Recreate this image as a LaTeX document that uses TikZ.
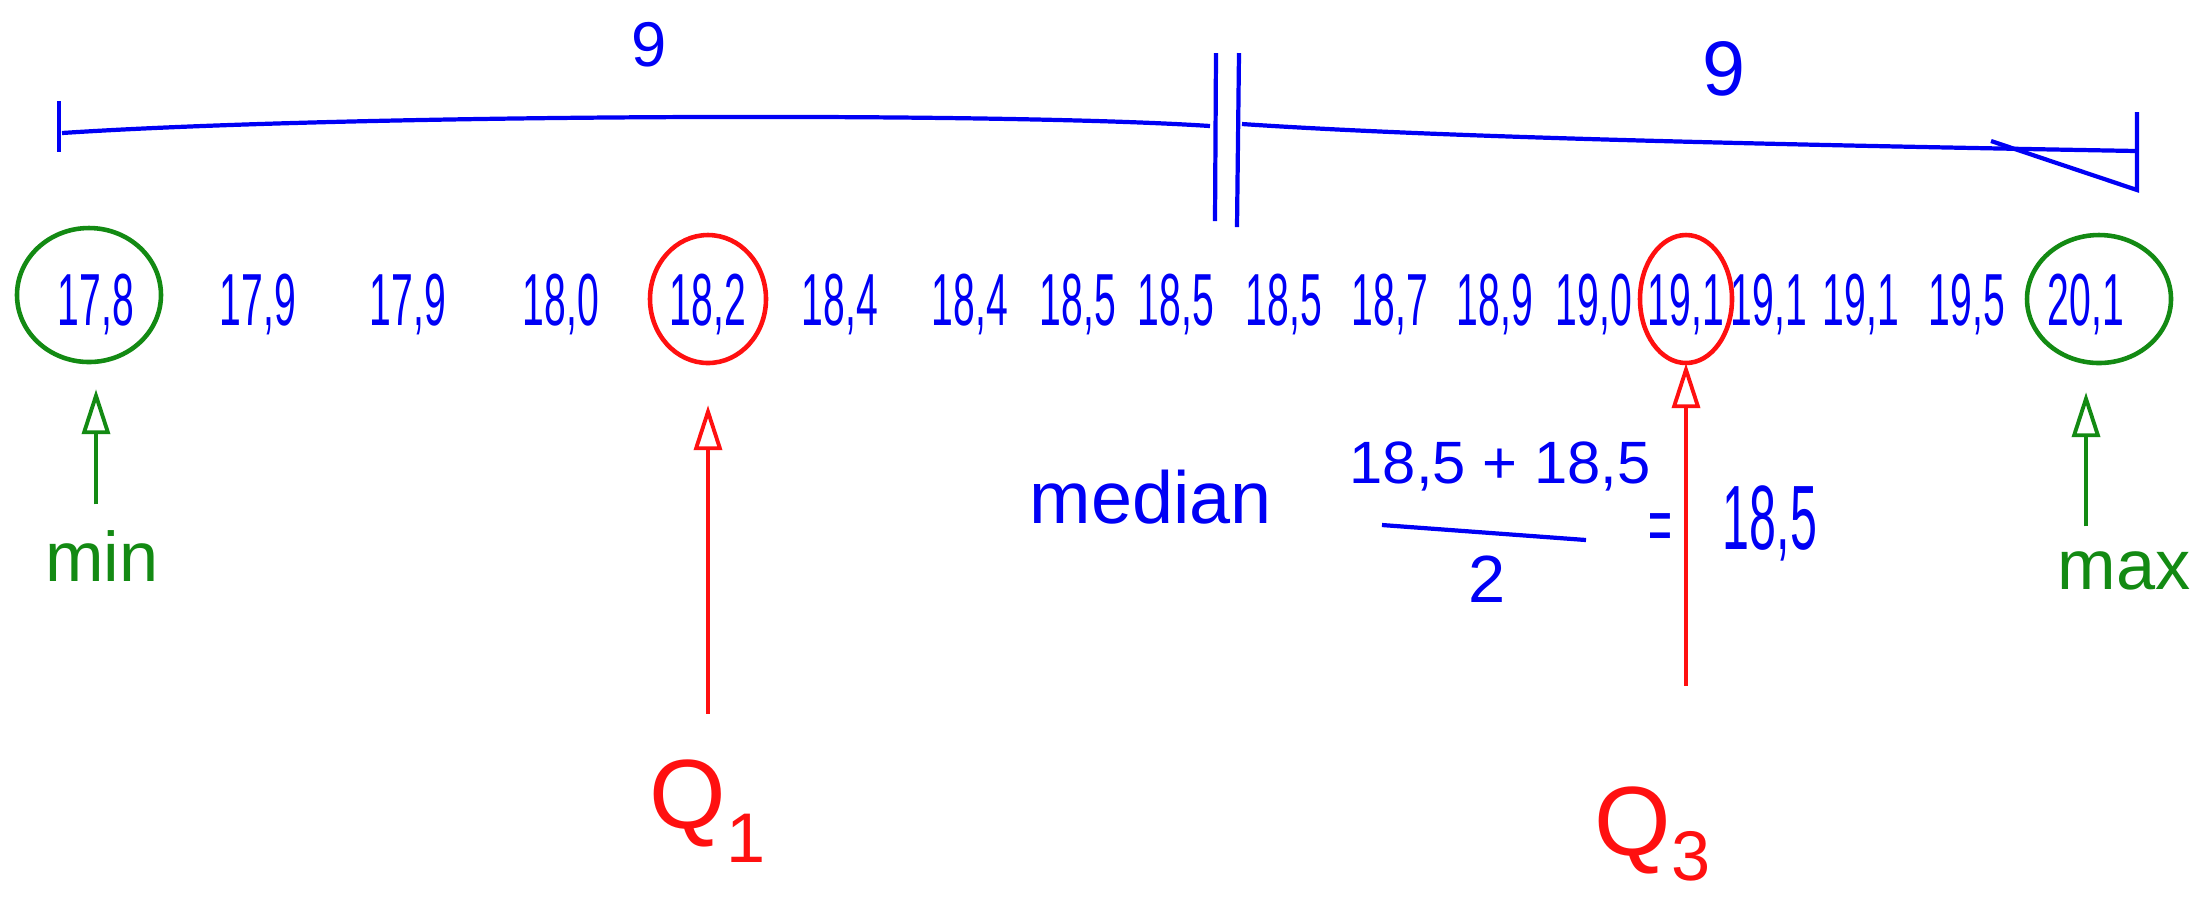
\documentclass[tikz,border=0pt]{standalone}
\usepackage{fontspec}
\setmainfont{Liberation Sans}
\newfontfamily\handnarrow[FakeStretch=0.53]{Liberation Sans}
\usepackage{xcolor}
\usepackage{tikz}
\usetikzlibrary{arrows.meta}
\definecolor{ink}{HTML}{0000F5}
\definecolor{penred}{HTML}{FF1010}
\definecolor{pengreen}{HTML}{138A13}

\begin{document}
\begin{tikzpicture}[
  val/.style={text=ink, font=\handnarrow\fontsize{21}{21}\selectfont, inner sep=0pt, text height=0.53cm, text depth=0pt},
  word/.style={inner sep=0pt, anchor=base, font=\fontsize{20}{20}\selectfont},
  qlbl/.style={inner sep=0pt, anchor=base west, text=penred, font=\fontsize{28}{28}\selectfont},
  ring/.style={line width=1.3pt},
  up/.style={-{Triangle[open, length=4.5mm, width=2.8mm]}, line width=1.1pt},
  stroke/.style={draw=ink, line width=1.2pt}
]
  \useasboundingbox (0,0) rectangle (22.02,-9.02);

  % 9 values on each side of the middle
  \node[text=ink, font=\fontsize{18}{18}\selectfont] (nine1) at (6.49,-0.45) {9};
  \node[text=ink, font=\fontsize{22}{22}\selectfont] (nine2) at (17.24,-0.69) {9};
  \draw[stroke] (0.59,-1.01) -- (0.59,-1.52);
  \draw[stroke] (0.62,-1.33) .. controls (3.5,-1.14) and (10,-1.12) .. (12.10,-1.26);
  \draw[stroke] (12.16,-0.53) -- (12.15,-2.21);
  \draw[stroke] (12.39,-0.53) -- (12.37,-2.27);
  \draw[stroke] (12.42,-1.24) .. controls (14.5,-1.38) and (18,-1.45) .. (21.37,-1.51);
  \draw[stroke] (21.37,-1.12) -- (21.37,-1.90) -- (19.91,-1.41);

  % sorted data
  \node[val] (x1) at (0.96,-2.99) {17,8};
  \node[val] (x2) at (2.58,-2.99) {17,9};
  \node[val] (x3) at (4.08,-2.99) {17,9};
  \node[val] (x4) at (5.61,-2.99) {18,0};
  \node[val] (x5) at (7.08,-2.99) {18,2};
  \node[val] (x6) at (8.40,-2.99) {18,4};
  \node[val] (x7) at (9.70,-2.99) {18,4};
  \node[val] (x8) at (10.78,-2.99) {18,5};
  \node[val] (x9) at (11.76,-2.99) {18,5};
  \node[val] (x10) at (12.84,-2.99) {18,5};
  \node[val] (x11) at (13.90,-2.99) {18,7};
  \node[val] (x12) at (14.95,-2.99) {18,9};
  \node[val] (x13) at (15.94,-2.99) {19,0};
  \node[val] (x14) at (16.86,-2.99) {19,1};
  \node[val] (x15) at (17.69,-2.99) {19,1};
  \node[val] (x16) at (18.61,-2.99) {19,1};
  \node[val] (x17) at (19.67,-2.99) {19,5};
  \node[val] (x18) at (20.86,-2.99) {20,1};

  % min, max and quartiles
  \draw[ring, pengreen] ([shift={(-0.07,0.04)}]x1) ellipse [x radius=0.72, y radius=0.67];
  \draw[ring, penred] (x5) ellipse [x radius=0.58, y radius=0.64];
  \draw[ring, penred] (x14) ellipse [x radius=0.46, y radius=0.64];
  \draw[ring, pengreen] ([xshift=1.3mm]x18) ellipse [x radius=0.72, y radius=0.64];

  \node[word, text=pengreen] (minlbl) at (1.02,-5.81) {min};
  \node[word, text=pengreen] (maxlbl) at (21.24,-5.89) {max};
  \node[qlbl] (q1lbl) at (6.49,-8.28) {Q\raisebox{-0.34cm}{\fontsize{20}{20}\selectfont 1}};
  \node[qlbl] (q3lbl) at (15.94,-8.55) {Q\raisebox{-0.25cm}{\fontsize{20}{20}\selectfont 3}};

  \draw[up, pengreen, shorten <=2.5mm, shorten >=6.3mm] (minlbl.north -| x1) -- (x1);
  \draw[up, pengreen, shorten <=2.4mm, shorten >=6.6mm] (maxlbl.north -| x18) -- (x18);
  \draw[up, penred, shorten <=4.5mm, shorten >=7.9mm] (q1lbl.north -| x5) -- (x5);
  \draw[up, penred, shorten <=10mm, shorten >=3.7mm] (q3lbl.north -| x14) -- (x14);

  % median
  \node[word, text=ink, font=\fontsize{21}{21}\selectfont] (medlbl) at (11.51,-5.23) {median};
  \node[word, text=ink, font=\fontsize{17}{17}\selectfont] (num) at (15.00,-4.83) {18,5 + 18,5};
  \draw[stroke] (13.82,-5.25) -- (15.86,-5.40);
  \node[word, text=ink, font=\fontsize{19}{19}\selectfont] (den) at (14.87,-6.02) {2};
  \node[text=ink, inner sep=0pt, font=\handnarrow\fontsize{22}{22}\selectfont] (eq) at (16.60,-5.33) {=};
  \node[val, font=\handnarrow\fontsize{26}{26}\selectfont, text height=0.66cm] (res) at (17.70,-5.16) {18,5};
\end{tikzpicture}
\end{document}
